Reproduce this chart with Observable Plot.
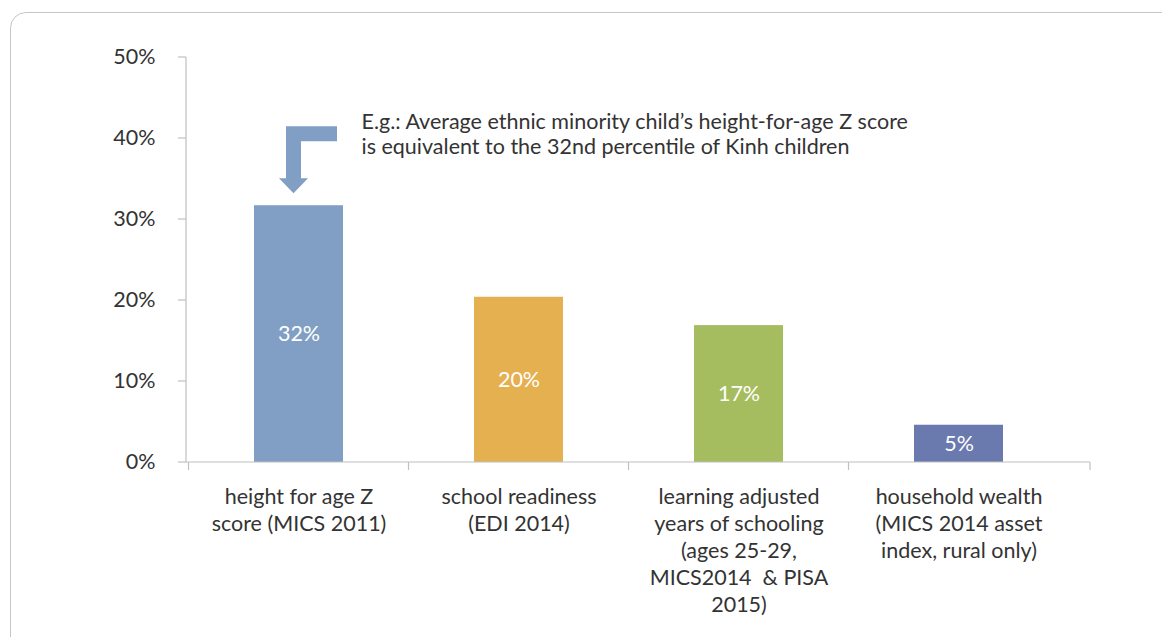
<!DOCTYPE html>
<html>
<head>
<meta charset="utf-8">
<script src="https://cdn.jsdelivr.net/npm/d3@7"></script>
<script src="https://cdn.jsdelivr.net/npm/@observablehq/plot@0.6"></script>
<style>
  html, body { margin: 0; padding: 0; background: #fff; }
  #wrap { position: relative; width: 1162px; height: 637px; overflow: hidden; }
  #frame { position: absolute; left: 10px; top: 12px; width: 1200px; height: 700px;
           border: 1px solid #c6c6c6; border-radius: 16px; box-sizing: border-box; }
  #chart { position: absolute; left: 0; top: 0; }
</style>
</head>
<body>
<div id="wrap"><div id="frame"></div><div id="chart"></div></div>
<script>
const categories = ["height", "readiness", "schooling", "wealth"];
const categoryLabels = [
  "height for age Z\nscore (MICS 2011)",
  "school readiness\n(EDI 2014)",
  "learning adjusted\nyears of schooling\n(ages 25-29,\nMICS2014  & PISA\n2015)",
  "household wealth\n(MICS 2014 asset\nindex, rural only)"
];
const values = [31.7, 20.4, 16.9, 4.6];
const valueLabels = ["32%", "20%", "17%", "5%"];
const barColors = ["#819fc4", "#e5b04f", "#a6bd5f", "#6a7aae"];
const yTicks = [0, 10, 20, 30, 40, 50];
const annotation = "E.g.: Average ethnic minority child\u2019s height-for-age Z score\nis equivalent to the 32nd percentile of Kinh children";

const data = categories.map((c, i) => ({
  cat: c, label: categoryLabels[i], value: values[i], text: valueLabels[i], color: barColors[i]
}));

const FONT = "Lato, 'Open Sans', sans-serif";
const FS = 21.5;
const AXIS = "#c0c0c0";
const TEXT = "#333333";

// axes lines + tick marks drawn from the scales
function axesMark(index, scales, values_, dims) {
  const {x, y} = scales;
  const g = d3.create("svg:g").attr("stroke", AXIS).attr("fill", "none").attr("stroke-width", 1.2);
  const left = dims.marginLeft, right = dims.width - dims.marginRight;
  const y0 = y(0), yTop = y(d3.max(yTicks));
  g.append("line").attr("x1", left).attr("x2", left).attr("y1", yTop).attr("y2", y0);
  g.append("line").attr("x1", left).attr("x2", right).attr("y1", y0).attr("y2", y0);
  for (const t of yTicks) {
    g.append("line").attr("x1", left - 8).attr("x2", left).attr("y1", y(t)).attr("y2", y(t));
  }
  const step = x(categories[1]) - x(categories[0]);
  const bw = x.bandwidth();
  const bounds = categories.map(c => x(c) - (step - bw) / 2).concat([right]);
  for (const b of bounds) {
    g.append("line").attr("x1", b).attr("x2", b).attr("y1", y0).attr("y2", y0 + 8);
  }
  return g.node();
}

// L-shaped arrow pointing down at the first bar
function arrowMark(index, scales) {
  const {x, y} = scales;
  const cx = x(categories[0]) + x.bandwidth() / 2;
  const ty = y(values[0]);
  const pts = [[-12.5,-79],[38.5,-79],[38.5,-64],[2.5,-64],[2.5,-27],[9.5,-27],[-5,-12],[-19.5,-27],[-12.5,-27]]
    .map(([dx, dy]) => [cx + dx, ty + dy]);
  return d3.create("svg:polygon")
    .attr("points", pts.map(p => p.join(",")).join(" "))
    .attr("fill", barColors[0]).node();
}

const chart = Plot.plot({
  width: 1162,
  height: 637,
  marginLeft: 186,
  marginRight: 72,
  marginTop: 57,
  marginBottom: 175,
  style: { fontFamily: FONT, background: "transparent" },
  x: { type: "band", domain: categories, range: [187, 1070], paddingInner: 0.597, paddingOuter: 0.2985, axis: null },
  y: { domain: [0, 50], axis: null },
  color: { type: "identity" },
  marks: [
    Plot.barY(data, { x: "cat", y: "value", fill: "color" }),
    Plot.text(data, { x: "cat", y: d => d.value / 2, text: "text", fill: "white", fontSize: FS }),
    Plot.axisY({ ticks: yTicks, tickFormat: d => d + "%", tickSize: 0, tickPadding: 31, fontSize: FS, fill: TEXT, stroke: "none", label: null }),
    Plot.text(data, { x: "cat", y: () => 0, text: "label", lineAnchor: "top", dy: 22, lineHeight: 1.26, fill: TEXT, fontSize: FS }),
    Plot.text([annotation], { x: () => categories[0], y: () => 40.67, text: d => d, textAnchor: "start", lineAnchor: "middle", dx: 62.5, lineHeight: 1.16, fill: TEXT, fontSize: FS }),
    arrowMark,
    axesMark
  ]
});
document.getElementById("chart").appendChild(chart);
</script>
</body>
</html>
